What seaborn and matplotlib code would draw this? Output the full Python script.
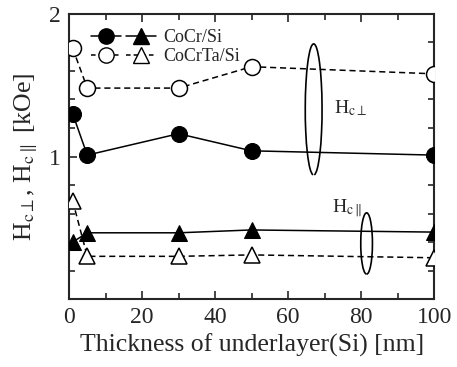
import numpy as np
import pandas as pd
import matplotlib
matplotlib.use("Agg")
import matplotlib.pyplot as plt
import seaborn as sns
from matplotlib.patches import Arc
from matplotlib.legend_handler import HandlerTuple
from matplotlib.ticker import MultipleLocator, FixedLocator
from matplotlib.lines import Line2D

# ---- data ----
thickness = [1, 5, 30, 50, 100]
cocr_perp = [1.30, 1.01, 1.16, 1.04, 1.01]
cocrta_perp = [1.76, 1.48, 1.48, 1.63, 1.58]
cocr_par = [0.40, 0.465, 0.465, 0.485, 0.47]
cocrta_par = [0.69, 0.30, 0.30, 0.31, 0.29]
legend_labels = ["CoCr/Si", "CoCrTa/Si"]
x_label = "Thickness of underlayer(Si) [nm]"
y_label = r"H$_{\mathrm{c}\perp}$, H$_{\mathrm{c}\parallel}$ [kOe]"

sns.set_style("ticks")
plt.rcParams['font.family'] = ['Liberation Serif', 'DejaVu Serif']
plt.rcParams['mathtext.fontset'] = 'stix'

fig = plt.figure(figsize=(4.57, 3.67), dpi=100)
ax = fig.add_axes([0.151, 0.185, 0.799, 0.777])

def series(y):
    return pd.DataFrame({"x": thickness, "y": y})

lw = 1.1
ms = 11.5
sns.lineplot(data=series(cocrta_perp), x="x", y="y", ax=ax, color="black",
             linestyle=(0, (4, 2.5)), linewidth=lw, marker="o", markersize=ms,
             markerfacecolor="white", markeredgecolor="black", markeredgewidth=1.1, zorder=3)
sns.lineplot(data=series(cocr_perp), x="x", y="y", ax=ax, color="black",
             linewidth=lw, marker="o", markersize=ms,
             markerfacecolor="black", markeredgecolor="black", zorder=3)
sns.lineplot(data=series(cocrta_par), x="x", y="y", ax=ax, color="black",
             linestyle=(0, (4, 2.5)), linewidth=lw, marker="^", markersize=ms,
             markerfacecolor="white", markeredgecolor="black", markeredgewidth=1.1, zorder=3)
sns.lineplot(data=series(cocr_par), x="x", y="y", ax=ax, color="black",
             linewidth=lw, marker="^", markersize=ms,
             markerfacecolor="black", markeredgecolor="black", zorder=3)

ax.set_xlim(0, 100)
ax.set_ylim(0, 2)
ax.xaxis.set_major_locator(MultipleLocator(20))
ax.xaxis.set_minor_locator(MultipleLocator(10))
ax.yaxis.set_major_locator(FixedLocator([1, 2]))
ax.yaxis.set_minor_locator(MultipleLocator(0.2))
ax.tick_params(which="both", direction="in", top=True, right=True, labelsize=17, width=1.2)
ax.tick_params(which="major", length=6, pad=6)
ax.tick_params(which="minor", length=4)
for s in ax.spines.values():
    s.set_linewidth(1.5)
    s.set_visible(True)

ax.set_xlabel(x_label, fontsize=18.5, labelpad=4)
ax.set_ylabel(y_label, fontsize=18.5, labelpad=6)

# legend
h1a = Line2D([], [], color="black", lw=lw, marker="o", ms=11, mfc="black", mec="black")
h1b = Line2D([], [], color="black", lw=lw, marker="^", ms=11, mfc="black", mec="black")
h2a = Line2D([], [], color="black", lw=lw, ls=(0, (3, 2)), marker="o", ms=11, mfc="white", mec="black")
h2b = Line2D([], [], color="black", lw=lw, ls=(0, (3, 2)), marker="^", ms=11, mfc="white", mec="black")
ax.legend([(h1a, h1b), (h2a, h2b)], legend_labels,
          handler_map={tuple: HandlerTuple(ndivide=None, pad=0.3)},
          loc="upper left", bbox_to_anchor=(0.03, 0.985), frameon=False,
          fontsize=13, handlelength=3.6, handletextpad=0.4, labelspacing=0.12,
          borderaxespad=0.2)

# ellipse annotations
ax.add_patch(Arc((67, 1.33), 4.6, 0.92, theta1=-70, theta2=250, color="black", lw=1.2))
ax.text(72.5, 1.34, r"H$_{\mathrm{c}\perp}$", fontsize=14, va="center", ha="left")
ax.add_patch(Arc((81.5, 0.39), 3.2, 0.43, theta1=-100, theta2=240, color="black", lw=1.2))
ax.text(72, 0.64, r"H$_{\mathrm{c}\parallel}$", fontsize=14, va="center", ha="left")

fig.savefig("out.png", dpi=100)
